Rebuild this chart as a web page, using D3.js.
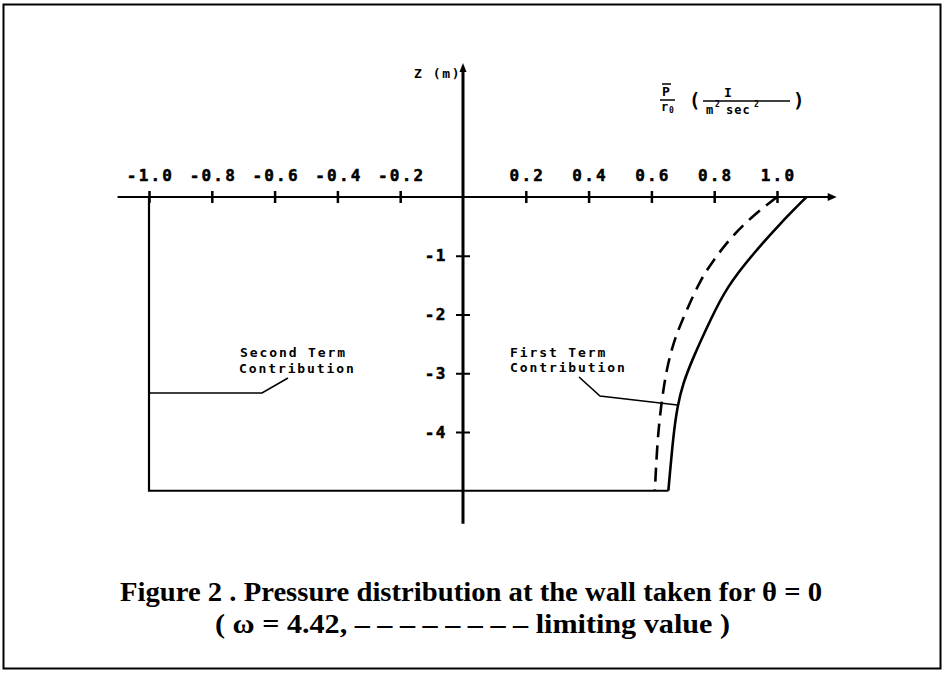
<!DOCTYPE html>
<html>
<head>
<meta charset="utf-8">
<script src="https://cdn.jsdelivr.net/npm/d3@7"></script>
<style>
  body { margin: 0; background: #fff; }
  svg { display: block; }
  .mono { font-family: "DejaVu Sans Mono", monospace; font-weight: bold; fill: #000; }
  .cap { font-family: "Liberation Serif", "Times New Roman", serif; font-weight: bold; fill: #000; }
</style>
</head>
<body>
<svg id="chart" width="945" height="675"></svg>
<script>
// tick values
var xTicks = [-1.0, -0.8, -0.6, -0.4, -0.2, 0.2, 0.4, 0.6, 0.8, 1.0];
var zTicks = [-1, -2, -3, -4];

// first term contribution (solid): pressure and depth
var firstP = [1.094, 1.01, 0.925, 0.84, 0.787, 0.733, 0.70, 0.683, 0.67, 0.654];
var firstZ = [0, -0.45, -0.96, -1.53, -2.1, -2.73, -3.18, -3.56, -4.04, -5.0];

// limiting value (dashed)
var limitP = [1.0, 0.914, 0.85, 0.797, 0.755, 0.712, 0.675, 0.649, 0.631, 0.619, 0.611];
var limitZ = [0, -0.36, -0.71, -1.08, -1.42, -1.93, -2.39, -2.9, -3.53, -4.15, -5.0];

// second term contribution
var secondP = [-1.0, -1.0, 0.654];
var secondZ = [0, -5.0, -5.0];

var svg = d3.select('#chart');

var x = d3.scaleLinear().domain([0, 1]).range([463, 777]);
var y = d3.scaleLinear().domain([0, -4]).range([197, 432]);

// frame
svg.append('rect')
  .attr('x', 3.5).attr('y', 4.5).attr('width', 937).attr('height', 664)
  .attr('fill', 'none').attr('stroke', '#000').attr('stroke-width', 2);

// x axis line with arrow
svg.append('line')
  .attr('x1', x(-1.1)).attr('x2', x(1.19) - 6)
  .attr('y1', y(0)).attr('y2', y(0))
  .attr('stroke', '#000').attr('stroke-width', 2);
svg.append('path')
  .attr('d', 'M' + x(1.19) + ',' + y(0) + 'l-9,-4l0,8z')
  .attr('fill', '#000');

// z axis line with arrow
svg.append('line')
  .attr('x1', x(0)).attr('x2', x(0))
  .attr('y1', y(2.28) + 6).attr('y2', y(-5.56))
  .attr('stroke', '#000').attr('stroke-width', 3);
svg.append('path')
  .attr('d', 'M' + x(0) + ',' + y(2.28) + 'l-3.5,9l7,0z')
  .attr('fill', '#000');

// x ticks through the axis
var gx = svg.append('g')
  .attr('transform', 'translate(0,' + y(0) + ')')
  .call(d3.axisTop(x).tickValues(xTicks).tickSize(6).tickPadding(10)
    .tickFormat(function(d){ return d3.format('.1f')(d).replace('\u2212', '-'); }));
gx.select('.domain').remove();
gx.selectAll('.tick line').attr('y1', 6).attr('y2', -6).attr('stroke', '#000').attr('stroke-width', 2.5);
gx.selectAll('.tick text')
  .attr('class', 'mono').attr('font-size', 16).attr('letter-spacing', 2.2)
  .attr('stroke', '#000').attr('stroke-width', 0.5)
  .attr('dx', 1);

// z ticks
var gy = svg.append('g')
  .attr('transform', 'translate(' + x(0) + ',0)')
  .call(d3.axisLeft(y).tickValues(zTicks).tickSize(6).tickPadding(10)
    .tickFormat(function(d){ return String(d); }));
gy.select('.domain').remove();
gy.selectAll('.tick line').attr('x1', -7).attr('x2', 7).attr('stroke', '#000').attr('stroke-width', 2);
gy.selectAll('.tick text')
  .attr('class', 'mono').attr('font-size', 16).attr('letter-spacing', 1.5)
  .attr('stroke', '#000').attr('stroke-width', 0.5);

// curves
var line = d3.line()
  .x(function(d){ return x(d[0]); })
  .y(function(d){ return y(d[1]); })
  .curve(d3.curveBasis);

svg.append('path')
  .datum(d3.zip(secondP, secondZ))
  .attr('d', d3.line().x(function(d){ return x(d[0]); }).y(function(d){ return y(d[1]); }))
  .attr('fill', 'none').attr('stroke', '#000').attr('stroke-width', 2.2);

svg.append('path')
  .datum(d3.zip(firstP, firstZ))
  .attr('d', line)
  .attr('fill', 'none').attr('stroke', '#000').attr('stroke-width', 2.6);

svg.append('path')
  .datum(d3.zip(limitP, limitZ))
  .attr('d', line)
  .attr('fill', 'none').attr('stroke', '#000').attr('stroke-width', 2.6)
  .attr('stroke-dasharray', '14,8');

// annotation leaders
var leader = d3.line();
svg.append('path')
  .attr('d', leader([[x(-1.0), 393], [262, 393], [288, 378]]))
  .attr('fill', 'none').attr('stroke', '#000').attr('stroke-width', 1.6);
svg.append('path')
  .attr('d', leader([[579, 377], [600, 396], [x(0.683), 405]]))
  .attr('fill', 'none').attr('stroke', '#000').attr('stroke-width', 1.6);

function label(tx, ty, s, size, sp) {
  return svg.append('text').attr('class', 'mono')
    .attr('x', tx).attr('y', ty)
    .attr('font-size', size).attr('letter-spacing', sp)
    .text(s);
}
label(240, 357, 'Second Term', 13, 1.9);
label(239, 373, 'Contribution', 13, 1.9);
label(510, 357, 'First Term', 13, 1.9);
label(510, 372, 'Contribution', 13, 1.9);
label(414, 78, 'Z (m)', 13, 1.6);

// P/rho0 unit label
label(662, 96, 'P', 13, 0);
svg.append('line').attr('x1', 662).attr('x2', 671).attr('y1', 84).attr('y2', 84).attr('stroke', '#000').attr('stroke-width', 1.5);
svg.append('line').attr('x1', 660).attr('x2', 675).attr('y1', 100).attr('y2', 100).attr('stroke', '#000').attr('stroke-width', 1.5);
label(661, 111, 'r', 12, 0);
label(669, 113, '0', 8, 0);
label(689, 107, '(', 19, 0);
label(724, 97, 'I', 13, 0);
svg.append('line').attr('x1', 703).attr('x2', 790).attr('y1', 101).attr('y2', 101).attr('stroke', '#000').attr('stroke-width', 1.3);
label(706, 114, 'm', 12, 0);
label(715, 107, '2', 8, 0);
label(726, 114, 'sec', 12, 1);
label(754, 107, '2', 8, 0);
label(793, 107, ')', 19, 0);

// caption
svg.append('text').attr('class', 'cap')
  .attr('x', 120).attr('y', 601)
  .attr('font-size', 27)
  .attr('textLength', 702).attr('lengthAdjust', 'spacingAndGlyphs')
  .text('Figure 2 . Pressure distribution at the wall taken for \u03b8 = 0');
svg.append('text').attr('class', 'cap')
  .attr('x', 215).attr('y', 633)
  .attr('font-size', 27)
  .attr('textLength', 515).attr('lengthAdjust', 'spacingAndGlyphs')
  .text('( \u03c9 = 4.42, \u2013 \u2013 \u2013 \u2013 \u2013 \u2013 \u2013 \u2013 limiting value )');
</script>
</body>
</html>
